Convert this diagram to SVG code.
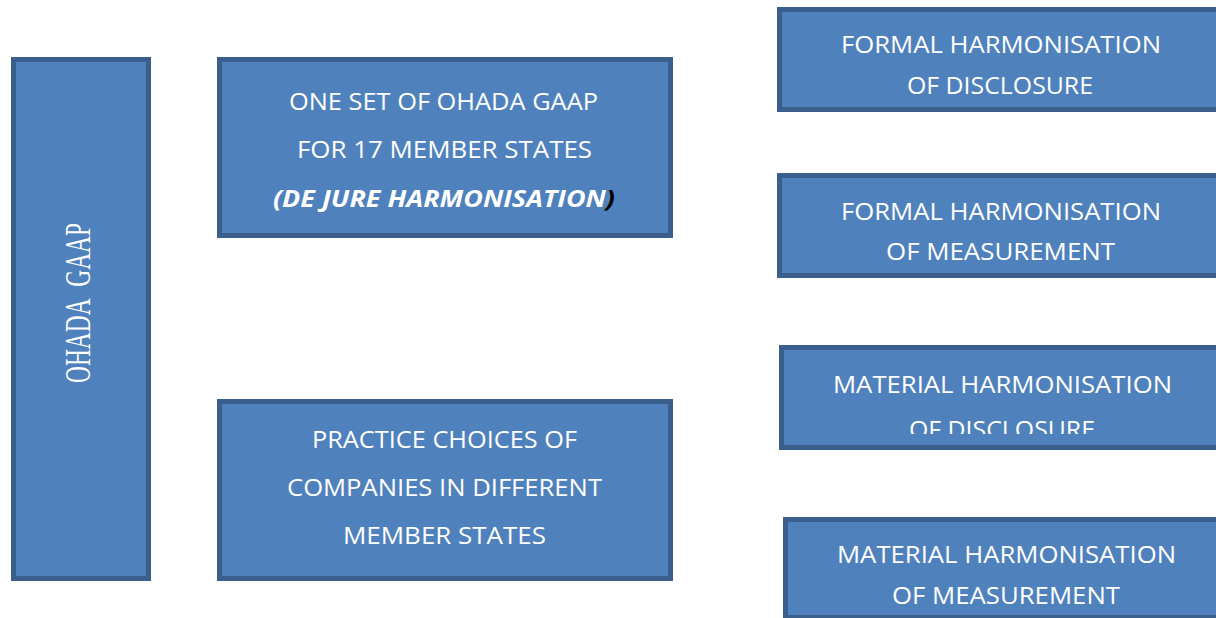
<svg xmlns="http://www.w3.org/2000/svg" width="1216" height="618" viewBox="0 0 1216 618">
  <style>
    .box { fill: #4f81bd; stroke: #3b5f8c; stroke-width: 5; }
    .t { font-family: "Open Sans", "Liberation Sans", sans-serif; font-size: 24px; fill: #ffffff; text-anchor: start; }
    .ohada { font-family: "Liberation Serif", serif; font-size: 36px; fill: #ffffff; }
  </style>
  <defs>
    <clipPath id="clipMD">
      <rect x="781" y="348" width="440" height="86"/>
    </clipPath>
  </defs>
  <rect width="1216" height="618" fill="#ffffff"/>

  <g id="node-ohada-gaap">
    <rect class="box" x="13.5" y="59.5" width="135" height="519"/>
    <text class="ohada" transform="translate(90,383) rotate(-90)" x="0" y="0" textLength="160" lengthAdjust="spacingAndGlyphs">OHADA&#160;&#160;GAAP</text>
  </g>

  <g id="node-one-set">
    <rect class="box" x="219.5" y="59.5" width="451" height="176"/>
    <text class="t" x="289" y="110" textLength="309" lengthAdjust="spacingAndGlyphs">ONE SET OF OHADA GAAP</text>
    <text class="t" x="297" y="158" textLength="295" lengthAdjust="spacingAndGlyphs">FOR 17 MEMBER STATES</text>
    <text class="t" x="273" y="207" textLength="342" lengthAdjust="spacingAndGlyphs" font-weight="bold" font-style="italic">(DE JURE HARMONISATION<tspan fill="#000000">)</tspan></text>
  </g>

  <g id="node-practice">
    <rect class="box" x="219.5" y="401.5" width="451" height="177"/>
    <text class="t" x="312" y="448" textLength="265" lengthAdjust="spacingAndGlyphs">PRACTICE CHOICES OF</text>
    <text class="t" x="287" y="496" textLength="315" lengthAdjust="spacingAndGlyphs">COMPANIES IN DIFFERENT</text>
    <text class="t" x="343" y="544" textLength="203" lengthAdjust="spacingAndGlyphs">MEMBER STATES</text>
  </g>

  <g id="node-formal-disclosure">
    <rect class="box" x="779.5" y="9.5" width="445" height="100"/>
    <text class="t" x="841" y="53" textLength="320" lengthAdjust="spacingAndGlyphs">FORMAL HARMONISATION</text>
    <text class="t" x="907" y="94" textLength="186" lengthAdjust="spacingAndGlyphs">OF DISCLOSURE</text>
  </g>

  <g id="node-formal-measurement">
    <rect class="box" x="779.5" y="175.5" width="445" height="100"/>
    <text class="t" x="841" y="220" textLength="320" lengthAdjust="spacingAndGlyphs">FORMAL HARMONISATION</text>
    <text class="t" x="886" y="260" textLength="229" lengthAdjust="spacingAndGlyphs">OF MEASUREMENT</text>
  </g>

  <g id="node-material-disclosure">
    <rect class="box" x="781.5" y="347.5" width="443" height="100"/>
    <text class="t" x="833" y="393" textLength="339" lengthAdjust="spacingAndGlyphs">MATERIAL HARMONISATION</text>
    <text class="t" x="909" y="438" textLength="186" lengthAdjust="spacingAndGlyphs" clip-path="url(#clipMD)">OF DISCLOSURE</text>
  </g>

  <g id="node-material-measurement">
    <rect class="box" x="785.5" y="519.5" width="439" height="98"/>
    <text class="t" x="837" y="563" textLength="339" lengthAdjust="spacingAndGlyphs">MATERIAL HARMONISATION</text>
    <text class="t" x="892" y="604" textLength="228" lengthAdjust="spacingAndGlyphs">OF MEASUREMENT</text>
  </g>

  <g id="connectors"></g>
</svg>
